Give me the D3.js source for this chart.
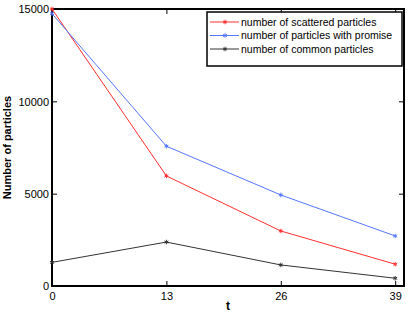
<!DOCTYPE html>
<html>
<head>
<meta charset="utf-8">
<script src="https://d3js.org/d3.v7.min.js"></script>
<style>
body{margin:0;background:#fff;}
text{font-family:"Liberation Sans",Arial,sans-serif;}
</style>
</head>
<body>
<script>
var tValues = [0,13,26,39];
var scattered = [15000,5960,2980,1180];
var promise = [14750,7570,4930,2710];
var common = [1280,2380,1140,420];
var seriesNames = ["number of scattered particles","number of particles with promise","number of common particles"];
var seriesColors = ["#ff3030","#5577ff","#333333"];
var yTicks = [0,5000,10000,15000];

var W = 409, H = 315;
var mLeft = 52, mRight = 404, mTop = 9, mBottom = 286;

var svg = d3.select("body").append("svg").attr("width",W).attr("height",H);

var x = d3.scaleLinear().domain([0,40]).range([mLeft,mRight]);
var y = d3.scaleLinear().domain([0,15000]).range([mBottom,mTop]);

// axes
var xAxis = d3.axisBottom(x).tickValues(tValues).tickSize(-5).tickPadding(6);
var yAxis = d3.axisLeft(y).tickValues(yTicks).tickSize(-5).tickPadding(3).tickFormat(d3.format("d"));

var gx = svg.append("g").attr("transform","translate(0,"+mBottom+")").call(xAxis);
var gy = svg.append("g").attr("transform","translate("+mLeft+",0)").call(yAxis);
var gx2 = svg.append("g").attr("transform","translate(0,"+mTop+")").call(d3.axisTop(x).tickValues(tValues).tickSize(-5).tickFormat(""));
var gy2 = svg.append("g").attr("transform","translate("+mRight+",0)").call(d3.axisRight(y).tickValues(yTicks).tickSize(-5).tickFormat(""));
[gx,gy,gx2,gy2].forEach(function(g){
  g.select(".domain").remove();
  g.selectAll("line").attr("stroke","#000").attr("stroke-width",1);
  g.selectAll("text").attr("font-size",11).attr("fill","#000")
   .style("font-family","'Liberation Sans',Arial,sans-serif");
});
gy.selectAll("text").attr("dy","0.35em");

svg.append("rect").attr("x",mLeft).attr("y",mTop).attr("width",mRight-mLeft).attr("height",mBottom-mTop)
  .attr("fill","none").attr("stroke","#000").attr("stroke-width",2);

var allSeries = [scattered,promise,common];
var line = d3.line().x(function(d,i){return x(tValues[i]);}).y(function(d){return y(d);});
var star = d3.symbol().type(d3.symbolAsterisk).size(14);

allSeries.forEach(function(s,k){
  svg.append("path").datum(s).attr("d",line).attr("fill","none")
    .attr("stroke",seriesColors[k]).attr("stroke-width",1);
  svg.selectAll("path.m"+k).data(s).enter().append("path")
    .attr("class","m"+k)
    .attr("d",star)
    .attr("transform",function(d,i){return "translate("+x(tValues[i])+","+y(d)+")";})
    .attr("fill","none").attr("stroke",seriesColors[k]).attr("stroke-width",1);
});

// legend
var lg = svg.append("g").attr("transform","translate(207,12)");
lg.append("rect").attr("width",195).attr("height",54).attr("fill","#fff")
  .attr("stroke","#000").attr("stroke-width",1.5);
seriesNames.forEach(function(n,k){
  var yy = 10 + k*13.5;
  lg.append("line").attr("x1",3).attr("x2",32).attr("y1",yy).attr("y2",yy)
    .attr("stroke",seriesColors[k]).attr("stroke-width",1);
  lg.append("path").attr("d",star).attr("transform","translate(18,"+yy+")")
    .attr("fill","none").attr("stroke",seriesColors[k]);
  lg.append("text").attr("x",34).attr("y",yy).attr("dy","0.35em")
    .attr("font-size",10.5).attr("textLength",null).text(n);
});

// labels
svg.append("text").attr("x",(mLeft+mRight)/2).attr("y",310).attr("text-anchor","middle")
  .attr("font-size",12).attr("font-weight","bold").text("t");
svg.append("text").attr("transform","translate(11,"+((mTop+mBottom)/2)+") rotate(-90)")
  .attr("text-anchor","middle").attr("font-size",11).attr("font-weight","bold").text("Number of particles");
</script>
</body>
</html>
